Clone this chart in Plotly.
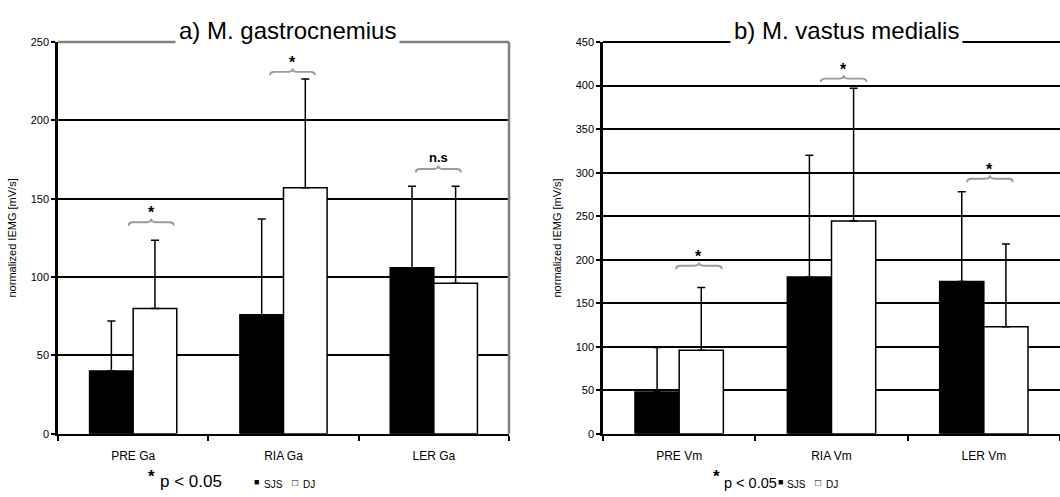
import plotly.graph_objects as go

# ---- data ----
cats_a = ["PRE Ga", "RIA Ga", "LER Ga"]
sjs_a = [40, 76, 106]
dj_a = [80, 157, 96]
sjs_sd_a = [32, 61, 52]
dj_sd_a = [43.5, 69.5, 62]

cats_b = ["PRE Vm", "RIA Vm", "LER Vm"]
sjs_b = [48, 180, 175]
dj_b = [96, 244.5, 123]
sjs_sd_b = [51, 140, 103]
dj_sd_b = [72, 152.5, 95]

sig_x_a = [0.12, 1.06, 2.03]
sig_y_a = [135, 231, 169]
sig_lab_a = ["*", "*", "n.s"]

sig_x_b = [0.13, 1.08, 2.04]
sig_y_b = [193, 408, 293]
sig_lab_b = ["*", "*", "*"]

yrange_a = [0, 250]
yrange_b = [0, 450]
ytitle = "normalized IEMG [mV/s]"
title_a = "a) M. gastrocnemius"
title_b = "b) M. vastus medialis"

W, H = 1060, 497
FONT = "Liberation Sans, Arial, sans-serif"

dom_a = [58 / W, 509 / W]
dom_b = [603 / W, 1.0]
dom_y = [1 - 438.3 / H, 1 - 37 / H]
plot_h = (dom_y[1] - dom_y[0]) * H

fig = go.Figure()


def add_bars(cats, sjs, dj, sd1, sd2, xa, ya):
    xs = list(range(len(cats)))
    fig.add_trace(go.Bar(
        x=xs, y=sjs, name="SJS", xaxis=xa, yaxis=ya, showlegend=False,
        marker=dict(color="black", line=dict(color="black", width=1.5)),
        error_y=dict(type="data", symmetric=False, array=sd1, arrayminus=[0] * len(sd1),
                     color="black", thickness=1.5, width=4)))
    fig.add_trace(go.Bar(
        x=xs, y=dj, name="DJ", xaxis=xa, yaxis=ya, showlegend=False,
        marker=dict(color="white", line=dict(color="black", width=1.5)),
        error_y=dict(type="data", symmetric=False, array=sd2, arrayminus=[0] * len(sd2),
                     color="black", thickness=1.5, width=4)))


add_bars(cats_a, sjs_a, dj_a, sjs_sd_a, dj_sd_a, "x", "y")
add_bars(cats_b, sjs_b, dj_b, sjs_sd_b, dj_sd_b, "x2", "y2")

xaxis_common = dict(
    range=[-0.5, 2.5], showgrid=False, zeroline=False,
    showline=True, linecolor="black", linewidth=2,
    tickmode="array", ticks="", ticklabelstandoff=10,
    tickfont=dict(family=FONT, size=12, color="black"),
    minor=dict(tick0=0.5, dtick=1, ticks="outside", ticklen=5, tickwidth=1.5, tickcolor="black"),
    fixedrange=True,
)
yaxis_common = dict(
    showgrid=True, gridcolor="black", gridwidth=1.5, zeroline=False,
    showline=True, linecolor="black", linewidth=2.5,
    ticks="outside", ticklen=4, tickwidth=1.5, tickcolor="black", dtick=50,
    tickfont=dict(family=FONT, size=11, color="black"),
    title=dict(text=ytitle, font=dict(family=FONT, size=11, color="black"), standoff=12),
    fixedrange=True,
)

fig.update_layout(
    width=W, height=H, margin=dict(l=0, r=0, t=0, b=0),
    paper_bgcolor="white", plot_bgcolor="white",
    barmode="group", bargap=0.42, bargroupgap=0,
    font=dict(family=FONT, color="black"),
    xaxis=dict(domain=dom_a, anchor="y", tickvals=[0, 1, 2], ticktext=cats_a, **xaxis_common),
    yaxis=dict(domain=dom_y, anchor="x", range=yrange_a, **yaxis_common),
    xaxis2=dict(domain=dom_b, anchor="y2", tickvals=[0, 1, 2], ticktext=cats_b, **xaxis_common),
    yaxis2=dict(domain=dom_y, anchor="x2", range=yrange_b, **yaxis_common),
)

shapes = []
annotations = []

# gray frame (top & right) for panel a
shapes.append(dict(type="line", xref="x domain", yref="y domain", x0=0, x1=1, y0=1, y1=1,
                   line=dict(color="#808080", width=2.5), layer="above"))
shapes.append(dict(type="line", xref="x domain", yref="y domain", x0=1, x1=1, y0=0, y1=1,
                   line=dict(color="#808080", width=2.5), layer="above"))
# black top line for panel b (top gridline)
shapes.append(dict(type="line", xref="x2 domain", yref="y2 domain", x0=0, x1=1, y0=1, y1=1,
                   line=dict(color="black", width=2), layer="above"))


def brace(xc, y, yr, xr, yref):
    u = (yr[1] - yr[0]) / plot_h  # data units per px
    h = 3.5 * u
    hw = 0.15
    d = 0.03
    x0, x1 = xc - hw, xc + hw
    p = (f"M {x0},{y - h} Q {x0},{y} {x0 + d},{y} L {xc - d},{y} "
         f"Q {xc},{y} {xc},{y + h} Q {xc},{y} {xc + d},{y} "
         f"L {x1 - d},{y} Q {x1},{y} {x1},{y - h}")
    return dict(type="path", path=p, xref=xr, yref=yref,
                line=dict(color="#9a9a9a", width=1.8), layer="above")


for xs, ys, labs, xr, yr_, rng in [(sig_x_a, sig_y_a, sig_lab_a, "x", "y", yrange_a),
                                   (sig_x_b, sig_y_b, sig_lab_b, "x2", "y2", yrange_b)]:
    for xc, y, lab in zip(xs, ys, labs):
        shapes.append(brace(xc, y, rng, xr, yr_))
        annotations.append(dict(
            x=xc, y=y, xref=xr, yref=yr_, text=f"<b>{lab}</b>", showarrow=False,
            yanchor="bottom", yshift=(2 if lab != "*" else -1),
            font=dict(family=FONT, size=(13 if lab != "*" else 16), color="black")))

# titles breaking the top line
for t, xc in [(title_a, 287), (title_b, 846)]:
    annotations.append(dict(
        x=xc / W, y=dom_y[1], xref="paper", yref="paper", text=t, showarrow=False,
        xanchor="center", yanchor="bottom", yshift=-6, bgcolor="white", borderpad=3,
        font=dict(family=FONT, size=24, color="black")))


def px(x, y):
    return x / W, 1 - y / H


def add_text(x, y, text, size, xanchor="left", yanchor="middle"):
    ax, ay = px(x, y)
    annotations.append(dict(x=ax, y=ay, xref="paper", yref="paper", text=text, showarrow=False,
                            xanchor=xanchor, yanchor=yanchor,
                            font=dict(family=FONT, size=size, color="black")))


# legend-like keys
for (sx, sy, px0, py0, psz, m1, t1, m2, t2) in [
        (151, 482, 158, 487, 17, 256, 262, 295, 301),
        (716, 482, 722, 489, 14.5, 780, 785, 818, 824)]:
    add_text(sx, sy, "<b>*</b>", 17, xanchor="center")
    add_text(px0, py0, "p &lt; 0.05", psz)
    add_text(m1, 488, "■", 9, xanchor="center")
    add_text(t1, 490, "SJS", 10)
    add_text(m2, 488, "□", 10, xanchor="center")
    add_text(t2, 490, "DJ", 10)

fig.update_layout(shapes=shapes, annotations=annotations)
fig.write_html("out.html", config={"displayModeBar": False},
               post_script="document.body.style.margin='0';document.body.style.padding='0';document.body.style.overflow='hidden';")
